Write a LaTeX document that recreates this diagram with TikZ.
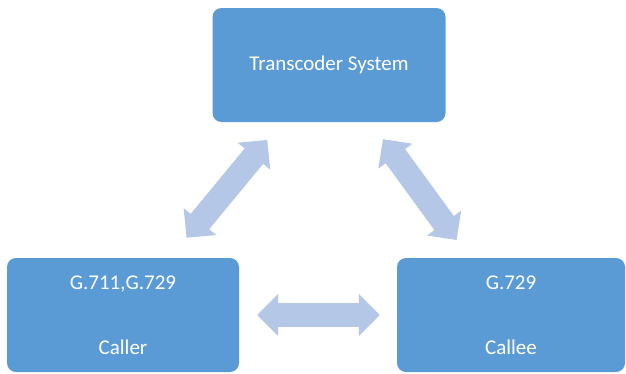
\documentclass[tikz,border=0pt]{standalone}
\usepackage{fontspec}
\setmainfont{Carlito}
\usepackage{xcolor}
\usetikzlibrary{arrows.meta, positioning}
\definecolor{boxblue}{HTML}{5B9BD5}
\definecolor{arrowblue}{HTML}{B4C7E7}

\begin{document}
\begin{tikzpicture}[
    x=1pt, y=-1pt,
    block/.style={rectangle, rounded corners=9pt, fill=boxblue, draw=none, text=white, minimum height=114pt, align=center, font=\fontsize{21}{25}\selectfont},
    link/.style={draw=arrowblue, line width=24pt, {Triangle[length=21pt, width=41pt]}-{Triangle[length=21pt, width=41pt]}},
]
    \useasboundingbox (0,0) rectangle (626,373);

    \node[block, minimum width=233pt] (trans) at (329,65) {Transcoder System};
    \node[block, minimum width=232pt] (caller) at (123,315) {G.711,G.729\\[40pt]Caller};
    \node[block, minimum width=228pt] (callee) at (511,315) {G.729\\[40pt]Callee};

    % double arrows between the boxes
    \draw[link, shorten <=26pt, shorten >=23pt] (caller) -- (trans);
    \draw[link, shorten <=22pt, shorten >=21pt] (callee) -- (trans);
    \draw[link, shorten <=18pt, shorten >=17pt] (caller) -- (callee);
\end{tikzpicture}
\end{document}
